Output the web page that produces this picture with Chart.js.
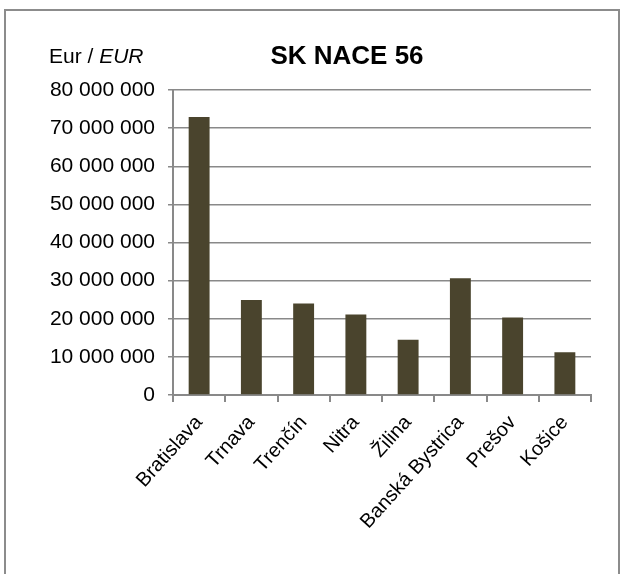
<!DOCTYPE html>
<html>
<head>
<meta charset="utf-8">
<script src="https://cdn.jsdelivr.net/npm/chart.js@4"></script>
<style>
  html, body { margin: 0; padding: 0; background: #fff; }
  #wrap { position: relative; width: 621px; height: 574px; }
</style>
</head>
<body>
<div id="wrap"><canvas id="naceChart" width="621" height="574"></canvas></div>
<script>
// Regions and values (EUR)
const regions = ['Bratislava', 'Trnava', 'Trenčín', 'Nitra', 'Žilina', 'Banská Bystrica', 'Prešov', 'Košice'];
const turnover = [72900000, 24900000, 24000000, 21100000, 14500000, 30600000, 20300000, 11200000];
const yMax = 80000000;
const yStep = 10000000;

const FONT = '"Liberation Sans", Arial, sans-serif';
const GRID = '#898989';

// Frame, title and unit label
const decorations = {
  id: 'decorations',
  beforeDraw(chart) {
    const ctx = chart.ctx;
    ctx.save();
    ctx.fillStyle = '#fff';
    ctx.fillRect(0, 0, chart.width, chart.height);
    ctx.strokeStyle = '#8c8c8c';
    ctx.lineWidth = 2;
    ctx.strokeRect(5, 10, 614, 800);
    ctx.restore();
  },
  afterDraw(chart) {
    const ctx = chart.ctx;
    ctx.save();
    ctx.fillStyle = '#000';
    ctx.textBaseline = 'alphabetic';
    ctx.font = 'bold 26px ' + FONT;
    ctx.textAlign = 'center';
    ctx.fillText('SK NACE 56', 347, 64);
    ctx.textAlign = 'left';
    ctx.font = '21px ' + FONT;
    const part = 'Eur / ';
    ctx.fillText(part, 49, 63);
    const w = ctx.measureText(part).width;
    ctx.font = 'italic 21px ' + FONT;
    ctx.fillText('EUR', 49 + w, 63);
    ctx.restore();
  }
};

const ctx = document.getElementById('naceChart').getContext('2d');
new Chart(ctx, {
  type: 'bar',
  data: {
    labels: regions,
    datasets: [{
      data: turnover,
      backgroundColor: '#4a442d',
      borderWidth: 0,
      categoryPercentage: 1,
      barPercentage: 0.4
    }]
  },
  plugins: [decorations],
  options: {
    responsive: false,
    animation: false,
    layout: { padding: { top: 90, right: 30, left: 0, bottom: 0 } },
    plugins: {
      legend: { display: false },
      title: { display: false },
      tooltip: { enabled: false }
    },
    scales: {
      y: {
        min: 0,
        max: yMax,
        afterFit(scale) { scale.width = 173; },
        ticks: {
          stepSize: yStep,
          color: '#000',
          padding: 13,
          font: { family: FONT, size: 21 },
          callback: function(value) {
            return String(value).replace(/\B(?=(\d{3})+(?!\d))/g, ' ');
          }
        },
        grid: {
          color: GRID,
          lineWidth: 1.5,
          tickLength: 5
        },
        border: { color: GRID, width: 2 }
      },
      x: {
        afterFit(scale) { scale.height = 574 - 395; },
        ticks: {
          color: '#000',
          maxRotation: 48,
          minRotation: 48,
          padding: 9,
          font: { family: FONT, size: 20 }
        },
        grid: {
          offset: true,
          drawOnChartArea: false,
          color: GRID,
          lineWidth: 2,
          tickLength: 7
        },
        border: { color: GRID, width: 2 }
      }
    }
  }
});
</script>
</body>
</html>
